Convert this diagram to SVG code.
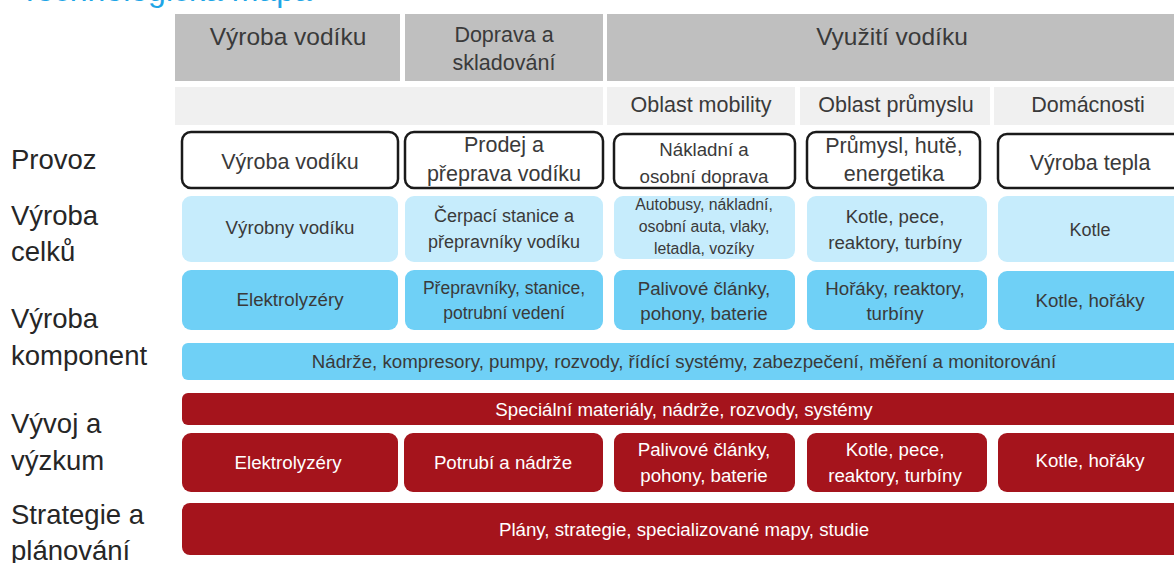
<svg xmlns="http://www.w3.org/2000/svg" width="1174" height="563" viewBox="0 0 1174 563">
<style>
text{font-family:"Liberation Sans","Open Sans",Arial,sans-serif;text-anchor:middle;fill:#3a3a3a}
.lbl{text-anchor:start;font-size:27.5px;fill:#262626}
.hdr{fill:#bfbfbf}
.sub{fill:#f0f0f0}
.op{fill:#fff;stroke:#1a1a1a;stroke-width:2.5}
.lb{fill:#c6ecfc}
.mb{fill:#6fd0f6}
.rd{fill:#a5141c}
.w{fill:#fff}
.h24{font-size:24.5px}
.h21{font-size:21.5px}
.t19{font-size:18.7px}
.t18{font-size:18px}
.t17{font-size:17.5px}
.t16{font-size:15.8px}
</style>
<rect width="1174" height="563" fill="#fff"/>
<text x="20" y="1" style="text-anchor:start;font-size:32px;fill:#1ea5e6">Technologická mapa</text>

<g id="row-labels">
<text class="lbl" x="11" y="169">Provoz</text>
<text class="lbl" x="11" y="225">Výroba</text>
<text class="lbl" x="11" y="261">celků</text>
<text class="lbl" x="11" y="328">Výroba</text>
<text class="lbl" x="11" y="365">komponent</text>
<text class="lbl" x="11" y="433">Vývoj a</text>
<text class="lbl" x="11" y="470">výzkum</text>
<text class="lbl" x="11" y="524">Strategie a</text>
<text class="lbl" x="11" y="560">plánování</text>
</g>

<g id="hdr-vyroba"><rect class="hdr" x="175" y="14" width="225" height="67"/><text class="h24" x="288" y="45">Výroba vodíku</text></g>
<g id="hdr-doprava"><rect class="hdr" x="405" y="14" width="198" height="67"/><text class="h21" x="504" y="42">Doprava a</text><text class="h21" x="504" y="70">skladování</text></g>
<g id="hdr-vyuziti"><rect class="hdr" x="607" y="14" width="567" height="67"/><text class="h24" x="892" y="45">Využití vodíku</text></g>

<g id="sub-empty"><rect class="sub" x="175" y="87" width="428" height="38"/></g>
<g id="sub-mobility"><rect class="sub" x="607" y="87" width="188" height="38"/><text class="h21" x="701" y="112">Oblast mobility</text></g>
<g id="sub-prumysl"><rect class="sub" x="800" y="87" width="190" height="38"/><text class="h21" x="896" y="112">Oblast průmyslu</text></g>
<g id="sub-domacnosti"><rect class="sub" x="994" y="87" width="180" height="38"/><text class="h21" x="1088" y="112">Domácnosti</text></g>

<g id="op-1"><rect class="op" x="182" y="132" width="216" height="56" rx="9"/><text class="h21" x="290" y="169">Výroba vodíku</text></g>
<g id="op-2"><rect class="op" x="405" y="132" width="198" height="56" rx="9"/><text class="h21" x="504" y="152">Prodej a</text><text class="h21" x="504" y="181">přeprava vodíku</text></g>
<g id="op-3"><rect class="op" x="614" y="134" width="181" height="54" rx="9"/><text class="t19" x="704" y="156">Nákladní a</text><text class="t19" x="704" y="183">osobní doprava</text></g>
<g id="op-4"><rect class="op" x="807" y="132" width="173" height="56" rx="9"/><text class="h21" x="894" y="153">Průmysl, hutě,</text><text class="h21" x="894" y="181">energetika</text></g>
<g id="op-5"><rect class="op" x="998" y="134" width="186" height="54" rx="9"/><text class="h21" x="1090" y="170">Výroba tepla</text></g>

<g id="cel-1"><rect class="lb" x="182" y="196" width="216" height="66" rx="9"/><text class="t19" x="290" y="234">Výrobny vodíku</text></g>
<g id="cel-2"><rect class="lb" x="405" y="196" width="198" height="66" rx="9"/><text class="t18" x="504" y="222">Čerpací stanice a</text><text class="t18" x="504" y="248">přepravníky vodíku</text></g>
<g id="cel-3"><rect class="lb" x="614" y="196" width="181" height="63" rx="9"/><text class="t16" x="704" y="210">Autobusy, nákladní,</text><text class="t16" x="704" y="232">osobní auta, vlaky,</text><text class="t16" x="704" y="254">letadla, vozíky</text></g>
<g id="cel-4"><rect class="lb" x="807" y="196" width="180" height="66" rx="9"/><text class="t19" x="895" y="223">Kotle, pece,</text><text class="t19" x="895" y="249">reaktory, turbíny</text></g>
<g id="cel-5"><rect class="lb" x="998" y="196" width="186" height="66" rx="9"/><text class="t18" x="1090" y="236">Kotle</text></g>

<g id="kom-1"><rect class="mb" x="182" y="270" width="216" height="60" rx="9"/><text class="t19" x="290" y="306">Elektrolyzéry</text></g>
<g id="kom-2"><rect class="mb" x="405" y="270" width="198" height="60" rx="9"/><text class="t17" x="504" y="294">Přepravníky, stanice,</text><text class="t17" x="504" y="319">potrubní vedení</text></g>
<g id="kom-3"><rect class="mb" x="614" y="270" width="181" height="60" rx="9"/><text class="t19" x="704" y="295">Palivové články,</text><text class="t19" x="704" y="320">pohony, baterie</text></g>
<g id="kom-4"><rect class="mb" x="807" y="270" width="180" height="60" rx="9"/><text class="t19" x="895" y="295">Hořáky, reaktory,</text><text class="t19" x="895" y="320">turbíny</text></g>
<g id="kom-5"><rect class="mb" x="998" y="271" width="186" height="59" rx="9"/><text class="t19" x="1090" y="307">Kotle, hořáky</text></g>

<g id="kom-bar"><rect class="mb" x="182" y="343" width="1002" height="37" rx="6"/><text class="t19" x="684" y="368">Nádrže, kompresory, pumpy, rozvody, řídící systémy, zabezpečení, měření a monitorování</text></g>

<g id="vyv-bar"><rect class="rd" x="182" y="393" width="1002" height="32" rx="6"/><text class="t19 w" x="684" y="416">Speciální materiály, nádrže, rozvody, systémy</text></g>
<g id="vyv-1"><rect class="rd" x="182" y="433" width="216" height="59" rx="9"/><text class="t19 w" x="288" y="469">Elektrolyzéry</text></g>
<g id="vyv-2"><rect class="rd" x="404" y="433" width="199" height="59" rx="9"/><text class="t19 w" x="503" y="469">Potrubí a nádrže</text></g>
<g id="vyv-3"><rect class="rd" x="614" y="433" width="181" height="59" rx="9"/><text class="t19 w" x="704" y="456">Palivové články,</text><text class="t19 w" x="704" y="482">pohony, baterie</text></g>
<g id="vyv-4"><rect class="rd" x="807" y="433" width="180" height="59" rx="9"/><text class="t19 w" x="895" y="456">Kotle, pece,</text><text class="t19 w" x="895" y="482">reaktory, turbíny</text></g>
<g id="vyv-5"><rect class="rd" x="998" y="433" width="186" height="59" rx="9"/><text class="t19 w" x="1090" y="467">Kotle, hořáky</text></g>

<g id="str-bar"><rect class="rd" x="182" y="503" width="1002" height="52" rx="8"/><text class="t19 w" x="684" y="536">Plány, strategie, specializované mapy, studie</text></g>
</svg>
